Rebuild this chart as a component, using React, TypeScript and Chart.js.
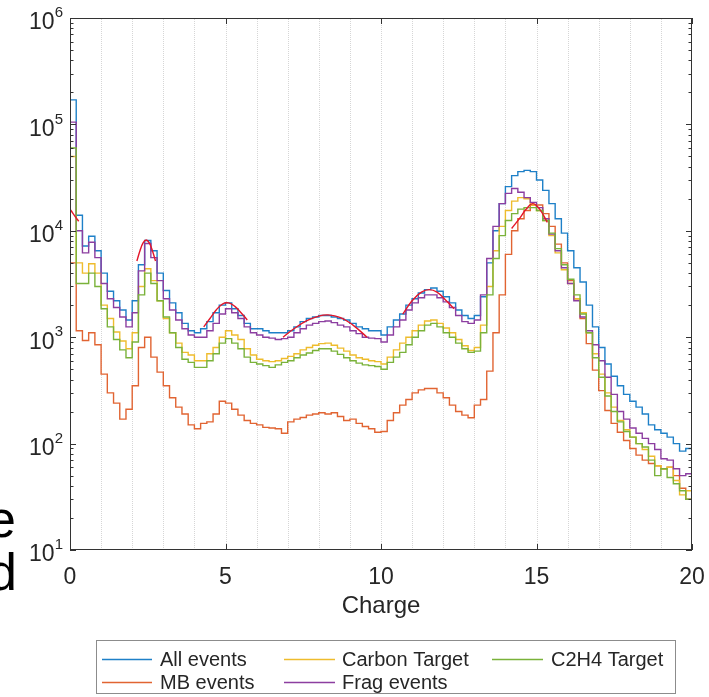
import React, { useEffect, useRef } from "react";
import { Chart, registerables } from "chart.js";

Chart.register(...registerables);

// ---------- data ----------
const BIN_WIDTH = 0.2; // histogram bin width (Charge units), bins start at 0
const X_MIN = 0;
const X_MAX = 20;
const Y_MIN = 10;
const Y_MAX = 1e6;
const xTickLabels = [0, 5, 10, 15, 20];
const xGridValues = [1, 2, 3, 4, 5, 6, 7, 8, 9, 10, 11, 12, 13, 14, 15, 16, 17, 18, 19];
const yTickExponents = [1, 2, 3, 4, 5, 6];

const allEvents = [
  170000, 14000, 7200, 8900, 6500, 4000, 2700, 2200, 1800, 1450,
  2200, 4800, 8100, 6500, 4000, 2750, 2100, 1700, 1350, 1150,
  1100, 1200, 1400, 1700, 2000, 2100, 1850, 1600, 1350, 1200,
  1200, 1150, 1100, 1100, 1100, 1150, 1250, 1400, 1500, 1550,
  1600, 1600, 1550, 1500, 1450, 1350, 1250, 1200, 1150, 1150,
  1050, 1250, 1450, 1650, 2000, 2300, 2600, 2800, 2900, 2700,
  2400, 2100, 1800, 1600, 1500, 1600, 2400, 5000, 10000, 18000,
  26000, 33000, 36000, 37000, 36000, 30000, 24000, 18000, 13000, 9500,
  6500, 4500, 3300, 2000, 1250, 800, 560, 430, 350, 290,
  250, 220, 190, 150, 135, 125, 115, 100, 85, 90,
];

const mbEvents = [
  5000, 1150, 930, 1100, 850, 450, 300, 240, 170, 210,
  350, 800, 1000, 650, 470, 350, 270, 220, 190, 150,
  138, 155, 160, 190, 250, 240, 210, 185, 165, 155,
  150, 142, 140, 138, 125, 160, 170, 176, 185, 190,
  195, 190, 195, 180, 165, 170, 155, 145, 138, 128,
  130, 165, 195, 230, 260, 300, 320, 330, 330, 300,
  270, 230, 200, 185, 175, 230, 260, 480, 1100, 2500,
  6000, 10000, 13000, 15500, 17500, 17500, 14500, 11000, 7500, 5000,
  3400, 2300, 1500, 870, 490, 315, 205, 155, 128, 107,
  90, 78, 70, 65, 62, 58, 60, 50, 38, 30,
];

const carbonTarget = [
  50000, 5000, 4000, 4900, 4000, 2000, 1500, 1120, 920, 780,
  1100, 3000, 4400, 3400, 2200, 1500, 1100, 880, 720, 680,
  600, 600, 700, 800, 1000, 1150, 1050, 950, 780, 680,
  620, 600, 590, 600, 630, 660, 700, 760, 800, 840,
  870, 880, 840, 790, 740, 680, 640, 620, 600, 590,
  560, 650, 760, 880, 1000, 1150, 1300, 1420, 1450, 1350,
  1220, 1100, 950, 830, 750, 800, 1300, 3000, 6500, 11000,
  15500, 19000, 20500, 20000, 17500, 15500, 12500, 9000, 6200, 4300,
  3200, 2300, 1700, 1100, 700, 450, 300, 220, 165, 135,
  115, 100, 88, 76, 62, 58, 60, 45, 33, 36,
];

const fragEvents = [
  105000, 10000, 6200, 7800, 5600, 3200, 2300, 1900, 1550, 1250,
  1700, 4200, 7600, 5600, 3400, 2300, 1800, 1450, 1200, 1050,
  1000, 1000, 1150, 1350, 1650, 1850, 1700, 1500, 1250, 1100,
  1050, 1000, 980, 950, 970, 1000, 1100, 1200, 1300, 1350,
  1400, 1420, 1370, 1300, 1250, 1150, 1080, 1000, 980, 970,
  900, 1050, 1250, 1450, 1800, 2100, 2350, 2500, 2500, 2350,
  2150, 1900, 1600, 1400, 1350, 1450, 2500, 5500, 11000, 18000,
  22500, 25000, 23000, 20500, 18500, 16500, 13000, 9300, 6500, 4500,
  3200, 2200, 1550, 1150, 850, 600, 420, 290, 200, 170,
  140, 125, 112, 100, 88, 72, 70, 58, 50, 52,
];

const c2h4Target = [
  60000, 3200, 3200, 4000, 3000, 1850, 1250, 950, 760, 640,
  900, 2500, 4000, 3200, 2200, 1550, 1100, 800, 620, 580,
  520, 520, 600, 700, 880, 970, 880, 780, 650, 580,
  560, 540, 520, 550, 580, 600, 640, 680, 710, 750,
  780, 780, 740, 690, 640, 600, 570, 550, 540, 530,
  500, 580, 650, 720, 850, 1000, 1150, 1300, 1350, 1250,
  1100, 1000, 880, 780, 720, 740, 1100, 2500, 5500, 9000,
  12500, 14500, 16000, 16500, 16500, 15500, 12500, 9500, 6800, 4800,
  3500, 2500, 1650, 1100, 640, 420, 280, 200, 160, 130,
  115, 100, 93, 70, 50, 58, 48, 42, 36, 30,
];

// red fit curves
const fit1X = [0, 0.1, 0.2, 0.28];
const fit1Y = [16000, 14500, 13200, 12300];
const fit2X = [2.15, 2.25, 2.35, 2.45, 2.55, 2.65, 2.75];
const fit2Y = [5200, 6500, 7700, 8200, 7700, 6500, 5200];
const fit3X = [4.3, 4.5, 4.7, 4.9, 5.1, 5.3, 5.5, 5.7];
const fit3Y = [1250, 1500, 1800, 2050, 2100, 1950, 1700, 1450];
const fit4X = [6.85, 7.2, 7.6, 8.0, 8.3, 8.7, 9.1, 9.55];
const fit4Y = [1000, 1200, 1420, 1580, 1620, 1530, 1300, 1000];
const fit5X = [10.7, 11.0, 11.3, 11.55, 11.8, 12.1, 12.35];
const fit5Y = [1650, 2200, 2650, 2800, 2650, 2200, 1850];
const fit6X = [14.2, 14.45, 14.67, 14.88, 15.1, 15.35];
const fit6Y = [10500, 13000, 16000, 18000, 16000, 12000];

const legendLabels = ["All events", "Carbon Target", "C2H4 Target", "MB events", "Frag events"];

// ---------- styles ----------
const C_BLUE = "rgb(30,128,200)";
const C_ORANGE = "rgb(225,100,50)";
const C_YELLOW = "rgb(238,188,45)";
const C_PURPLE = "rgb(140,62,160)";
const C_GREEN = "rgb(122,178,58)";
const C_RED = "rgb(228,22,42)";
const legendColors = [C_BLUE, C_YELLOW, C_GREEN, C_ORANGE, C_PURPLE];
const FONT = '"Liberation Sans", Arial, Helvetica, sans-serif';
const AXIS_COLOR = "#333333";
const TEXT_COLOR = "#262626";

function stairs(values: number[]) {
  const pts = values.map((v, i) => ({ x: Math.round(i * BIN_WIDTH * 100) / 100, y: v }));
  pts.push({ x: Math.round(values.length * BIN_WIDTH * 100) / 100, y: values[values.length - 1] });
  return pts;
}

function curve(xs: number[], ys: number[]) {
  return xs.map((x, i) => ({ x, y: ys[i] }));
}

const matlabAxes = {
  id: "matlabAxes",
  beforeDatasetsDraw(chart: any) {
    const { ctx, chartArea: a, scales } = chart;
    const x = scales.x;
    ctx.save();
    ctx.strokeStyle = "rgba(0,0,0,0.16)";
    ctx.lineWidth = 1;
    ctx.setLineDash([1, 1]);
    for (const g of xGridValues) {
      const px = Math.round(x.getPixelForValue(g)) + 0.5;
      ctx.beginPath();
      ctx.moveTo(px, a.top + 1);
      ctx.lineTo(px, a.bottom - 1);
      ctx.stroke();
    }
    ctx.restore();
  },
  afterDatasetsDraw(chart: any) {
    const { ctx, chartArea: a, scales } = chart;
    const x = scales.x;
    const y = scales.y;
    ctx.save();
    ctx.setLineDash([]);
    // axes box
    ctx.strokeStyle = AXIS_COLOR;
    ctx.lineWidth = 1;
    ctx.strokeRect(a.left + 0.5, a.top + 0.5, a.right - a.left - 1, a.bottom - a.top - 1);

    // x major ticks (bottom & top, inward)
    ctx.beginPath();
    for (const v of xTickLabels) {
      const px = Math.round(x.getPixelForValue(v)) + 0.5;
      ctx.moveTo(px, a.bottom);
      ctx.lineTo(px, a.bottom - 6);
      ctx.moveTo(px, a.top);
      ctx.lineTo(px, a.top + 6);
    }
    // y major and minor ticks (left & right, inward)
    for (const e of yTickExponents) {
      const py = Math.round(y.getPixelForValue(Math.pow(10, e))) + 0.5;
      ctx.moveTo(a.left, py);
      ctx.lineTo(a.left + 6, py);
      ctx.moveTo(a.right, py);
      ctx.lineTo(a.right - 6, py);
      if (e < 6) {
        for (let m = 2; m <= 9; m++) {
          const pm = Math.round(y.getPixelForValue(m * Math.pow(10, e))) + 0.5;
          ctx.moveTo(a.left, pm);
          ctx.lineTo(a.left + 3.5, pm);
          ctx.moveTo(a.right, pm);
          ctx.lineTo(a.right - 3.5, pm);
        }
      }
    }
    ctx.stroke();

    // tick labels
    ctx.fillStyle = TEXT_COLOR;
    ctx.font = `23px ${FONT}`;
    ctx.textAlign = "center";
    ctx.textBaseline = "alphabetic";
    for (const v of xTickLabels) {
      ctx.fillText(String(v), x.getPixelForValue(v), a.bottom + 34);
    }
    for (const e of yTickExponents) {
      const py = y.getPixelForValue(Math.pow(10, e));
      const right = a.left - 7;
      ctx.textAlign = "right";
      ctx.textBaseline = "middle";
      ctx.font = `15px ${FONT}`;
      const sup = String(e);
      const supW = ctx.measureText(sup).width;
      ctx.fillText(sup, right, py - 5);
      ctx.font = `23px ${FONT}`;
      ctx.fillText("10", right - supW, py + 5);
    }
    // axis title
    ctx.font = `24px ${FONT}`;
    ctx.textAlign = "center";
    ctx.textBaseline = "alphabetic";
    ctx.fillText("Charge", (a.left + a.right) / 2, a.bottom + 63);

    // legend
    const lx0 = 96, ly0 = 640, lx1 = 676, ly1 = 694;
    ctx.fillStyle = "#ffffff";
    ctx.fillRect(lx0, ly0, lx1 - lx0, ly1 - ly0);
    ctx.strokeStyle = "#8c8c8c";
    ctx.lineWidth = 1;
    ctx.strokeRect(lx0 + 0.5, ly0 + 0.5, lx1 - lx0 - 1, ly1 - ly0 - 1);
    const slots = [
      { l0: 102, l1: 152, t: 160, y: 659 },
      { l0: 284, l1: 335, t: 342, y: 659 },
      { l0: 492, l1: 543, t: 551, y: 659 },
      { l0: 102, l1: 152, t: 160, y: 682 },
      { l0: 284, l1: 335, t: 342, y: 682 },
    ];
    ctx.font = `20px ${FONT}`;
    ctx.textAlign = "left";
    ctx.textBaseline = "middle";
    legendLabels.forEach((label, i) => {
      const s = slots[i];
      ctx.strokeStyle = legendColors[i];
      ctx.lineWidth = 1.3;
      ctx.beginPath();
      ctx.moveTo(s.l0, s.y + 0.5);
      ctx.lineTo(s.l1, s.y + 0.5);
      ctx.stroke();
      ctx.fillStyle = TEXT_COLOR;
      ctx.fillText(label, s.t, s.y + 1);
    });

    // clipped letters of surrounding page text at the left edge
    ctx.fillStyle = "#000000";
    ctx.font = `52px ${FONT}`;
    ctx.textAlign = "left";
    ctx.textBaseline = "alphabetic";
    ctx.fillText("e", -13, 537);
    ctx.fillText("d", -12, 590);
    ctx.restore();
  },
};

function stairDataset(label: string, values: number[], color: string, order: number) {
  return {
    label,
    data: stairs(values),
    borderColor: color,
    backgroundColor: color,
    borderWidth: 1.4,
    pointRadius: 0,
    fill: false,
    stepped: "before" as const,
    order,
  };
}

function fitDataset(xs: number[], ys: number[]) {
  return {
    label: "fit",
    data: curve(xs, ys),
    borderColor: C_RED,
    backgroundColor: C_RED,
    borderWidth: 1.4,
    pointRadius: 0,
    fill: false,
    tension: 0.4,
    order: 0,
  };
}

export default function App() {
  const ref = useRef<HTMLCanvasElement>(null);
  useEffect(() => {
    if (!ref.current) return;
    const chart = new Chart(ref.current, {
      type: "line",
      data: {
        datasets: [
          stairDataset("All events", allEvents, C_BLUE, 5),
          stairDataset("MB events", mbEvents, C_ORANGE, 4),
          stairDataset("Carbon Target", carbonTarget, C_YELLOW, 3),
          stairDataset("Frag events", fragEvents, C_PURPLE, 2),
          stairDataset("C2H4 Target", c2h4Target, C_GREEN, 1),
          fitDataset(fit1X, fit1Y),
          fitDataset(fit2X, fit2Y),
          fitDataset(fit3X, fit3Y),
          fitDataset(fit4X, fit4Y),
          fitDataset(fit5X, fit5Y),
          fitDataset(fit6X, fit6Y),
        ] as any,
      },
      options: {
        animation: false,
        responsive: false,
        devicePixelRatio: 1,
        layout: { padding: { left: 70, right: 17, top: 18, bottom: 147 } },
        plugins: { legend: { display: false }, tooltip: { enabled: false }, title: { display: false } },
        scales: {
          x: {
            type: "linear",
            min: X_MIN,
            max: X_MAX,
            grid: { display: false, drawTicks: false },
            ticks: { display: false },
            border: { display: false },
          },
          y: {
            type: "logarithmic",
            min: Y_MIN,
            max: Y_MAX,
            grid: { display: false, drawTicks: false },
            ticks: { display: false },
            border: { display: false },
          },
        },
      } as any,
      plugins: [matlabAxes],
    });
    return () => chart.destroy();
  }, []);
  return (
    <div style={{ position: "fixed", left: 0, top: 0, width: 709, height: 697, background: "#ffffff" }}>
      <canvas ref={ref} width={709} height={697} style={{ display: "block", width: 709, height: 697 }} />
    </div>
  );
}
